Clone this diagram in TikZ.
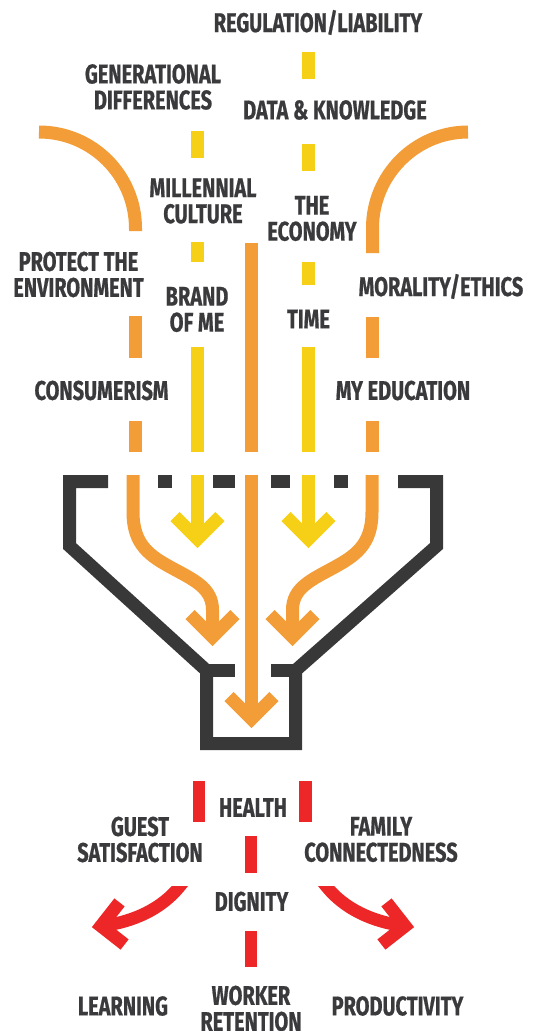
\documentclass[tikz,border=0pt]{standalone}
\usepackage{fontspec}
\newfontfamily\lblfont{Fira Sans}[FakeStretch=0.74, BoldFeatures={FakeBold=0.7}]
\definecolor{orng}{RGB}{242,157,55}
\definecolor{yel}{RGB}{246,208,22}
\definecolor{redc}{RGB}{237,39,40}
\definecolor{dark}{RGB}{56,56,56}
\definecolor{txt}{RGB}{58,58,60}
\begin{document}
\begin{tikzpicture}[x=1pt,y=-1pt,
  lbl/.style={font={\lblfont\bfseries\fontsize{27pt}{26pt}\selectfont}, text=txt, align=center, inner sep=0pt},
  orangeline/.style={draw=orng, line width=13pt},
  yellowline/.style={draw=yel, line width=13pt},
  redline/.style={draw=redc, line width=12.5pt},
  chev/.style={line width=13pt, miter limit=10},
  funnelline/.style={draw=dark, line width=13pt, miter limit=10},
  funnelbit/.style={fill=dark, draw=none}]
\useasboundingbox (0,0) rectangle (535,1031);
\fill[white] (0,0) rectangle (535,1031);

% ---- labels (top)
\node[lbl] (reg) at (318,22.5) {REGULATION/LIABILITY};
\node[lbl] (gen) at (153,87) {GENERATIONAL\\DIFFERENCES};
\node[lbl] (data) at (335,110) {DATA \& KNOWLEDGE};
\node[lbl] (mill) at (203,201) {MILLENNIAL\\CULTURE};
\node[lbl] (econ) at (312,218.5) {THE\\ECONOMY};
\node[lbl] (env) at (78.5,274.5) {PROTECT THE\\ENVIRONMENT};
\node[lbl] (moral) at (441,286.5) {MORALITY/ETHICS};
\node[lbl] (brand) at (197,309.5) {BRAND\\OF ME};
\node[lbl] (time) at (308.5,319) {TIME};
\node[lbl] (cons) at (101.5,390.5) {CONSUMERISM};
\node[lbl] (edu) at (403,390.5) {MY EDUCATION};

% ---- labels (bottom)
\node[lbl] (health) at (253,807.5) {HEALTH};
\node[lbl] (guest) at (140,839.5) {GUEST\\SATISFACTION};
\node[lbl] (family) at (381,839.5) {FAMILY\\CONNECTEDNESS};
\node[lbl] (dign) at (251.5,901.5) {DIGNITY};
\node[lbl] (learn) at (123,1006) {LEARNING};
\node[lbl] (worker) at (251,1008.5) {WORKER\\RETENTION};
\node[lbl] (prod) at (397.5,1006) {PRODUCTIVITY};

% ---- left yellow line
\draw[yellowline] (197.5,131) -- (197.5,158);
\draw[yellowline] (197.5,242) -- (197.5,262);
\draw[yellowline] (197.5,347) -- (197.5,452);
\draw[yellowline] (197.5,475) -- (197.5,539);
\draw[yellowline,chev] (175,516.5) -- (197.5,539) -- (220,516.5);

% ---- right yellow line
\draw[yellowline] (308.5,52) -- (308.5,79);
\draw[yellowline] (308.5,144) -- (308.5,171);
\draw[yellowline] (308.5,262) -- (308.5,285);
\draw[yellowline] (308.5,347) -- (308.5,452);
\draw[yellowline] (308.5,475) -- (308.5,539);
\draw[yellowline,chev] (286,516.5) -- (308.5,539) -- (331,516.5);

% ---- centre orange line
\draw[orangeline] (251.5,243) -- (251.5,452);
\draw[orangeline] (251.5,475) -- (251.5,719);
\draw[orangeline,chev] (229,696.5) -- (251.5,719) -- (274,696.5);

% ---- left orange line
\draw[orangeline] (39,132) .. controls (92.3,132) and (135.5,175.2) .. (135.5,228.5) -- (135.5,231);
\draw[orangeline] (135.5,316) -- (135.5,358);
\draw[orangeline] (135.5,421) -- (135.5,452);
\draw[orangeline] (133,475) -- (133,512) .. controls (133,545) and (150,556) .. (172,568)
   .. controls (194,580) and (212.5,588) .. (212.5,610) -- (212.5,637);
\draw[orangeline,chev] (190,614.5) -- (212.5,637) -- (235,614.5);

% ---- right orange line
\draw[orangeline] (468,132) .. controls (415.3,132) and (372.5,175.3) .. (372.5,228) -- (372.5,253);
\draw[orangeline] (372.5,317) -- (372.5,358);
\draw[orangeline] (372.5,421) -- (372.5,452);
\draw[orangeline] (372,475) -- (372,512) .. controls (372,545) and (355,556) .. (333,568)
   .. controls (311,580) and (292.5,588) .. (292.5,610) -- (292.5,637);
\draw[orangeline,chev] (270,614.5) -- (292.5,637) -- (315,614.5);

% ---- funnel
\draw[funnelline] (108,481.5) -- (69.5,481.5) -- (69.5,546) -- (206.5,670.5) -- (206.5,743.5)
   -- (295.5,743.5) -- (295.5,670.5) -- (436.5,546) -- (436.5,481.5) -- (398,481.5);
\draw[funnelline] (206.5,670.5) -- (235,670.5);
\draw[funnelline] (295.5,670.5) -- (271,670.5);
\fill[funnelbit] (158,475) rectangle (172,488);
\fill[funnelbit] (213,475) rectangle (235,488);
\fill[funnelbit] (271,475) rectangle (290,488);
\fill[funnelbit] (334,475) rectangle (348,488);

% ---- red dashes
\draw[redline] (199,781) -- (199,822);
\draw[redline] (305.5,781) -- (305.5,822);
\draw[redline] (251,836) -- (251,873);
\draw[redline] (251,931) -- (251,967);

% ---- red curved arrows
\begin{scope}
\clip (0,886) rectangle (535,1031);
\draw[redline] (185,879.8) -- (180,886) .. controls (162,908.5) and (134,922) .. (101,926);
\draw[redline] (321,879.8) -- (326,886) .. controls (344,908.5) and (372,922) .. (405,926);
\end{scope}
\draw[redline,chev] (119.5,902.4) -- (101,926) -- (124.6,944.5);
\draw[redline,chev] (386.5,902.4) -- (405,926) -- (381.4,944.5);
\end{tikzpicture}
\end{document}
